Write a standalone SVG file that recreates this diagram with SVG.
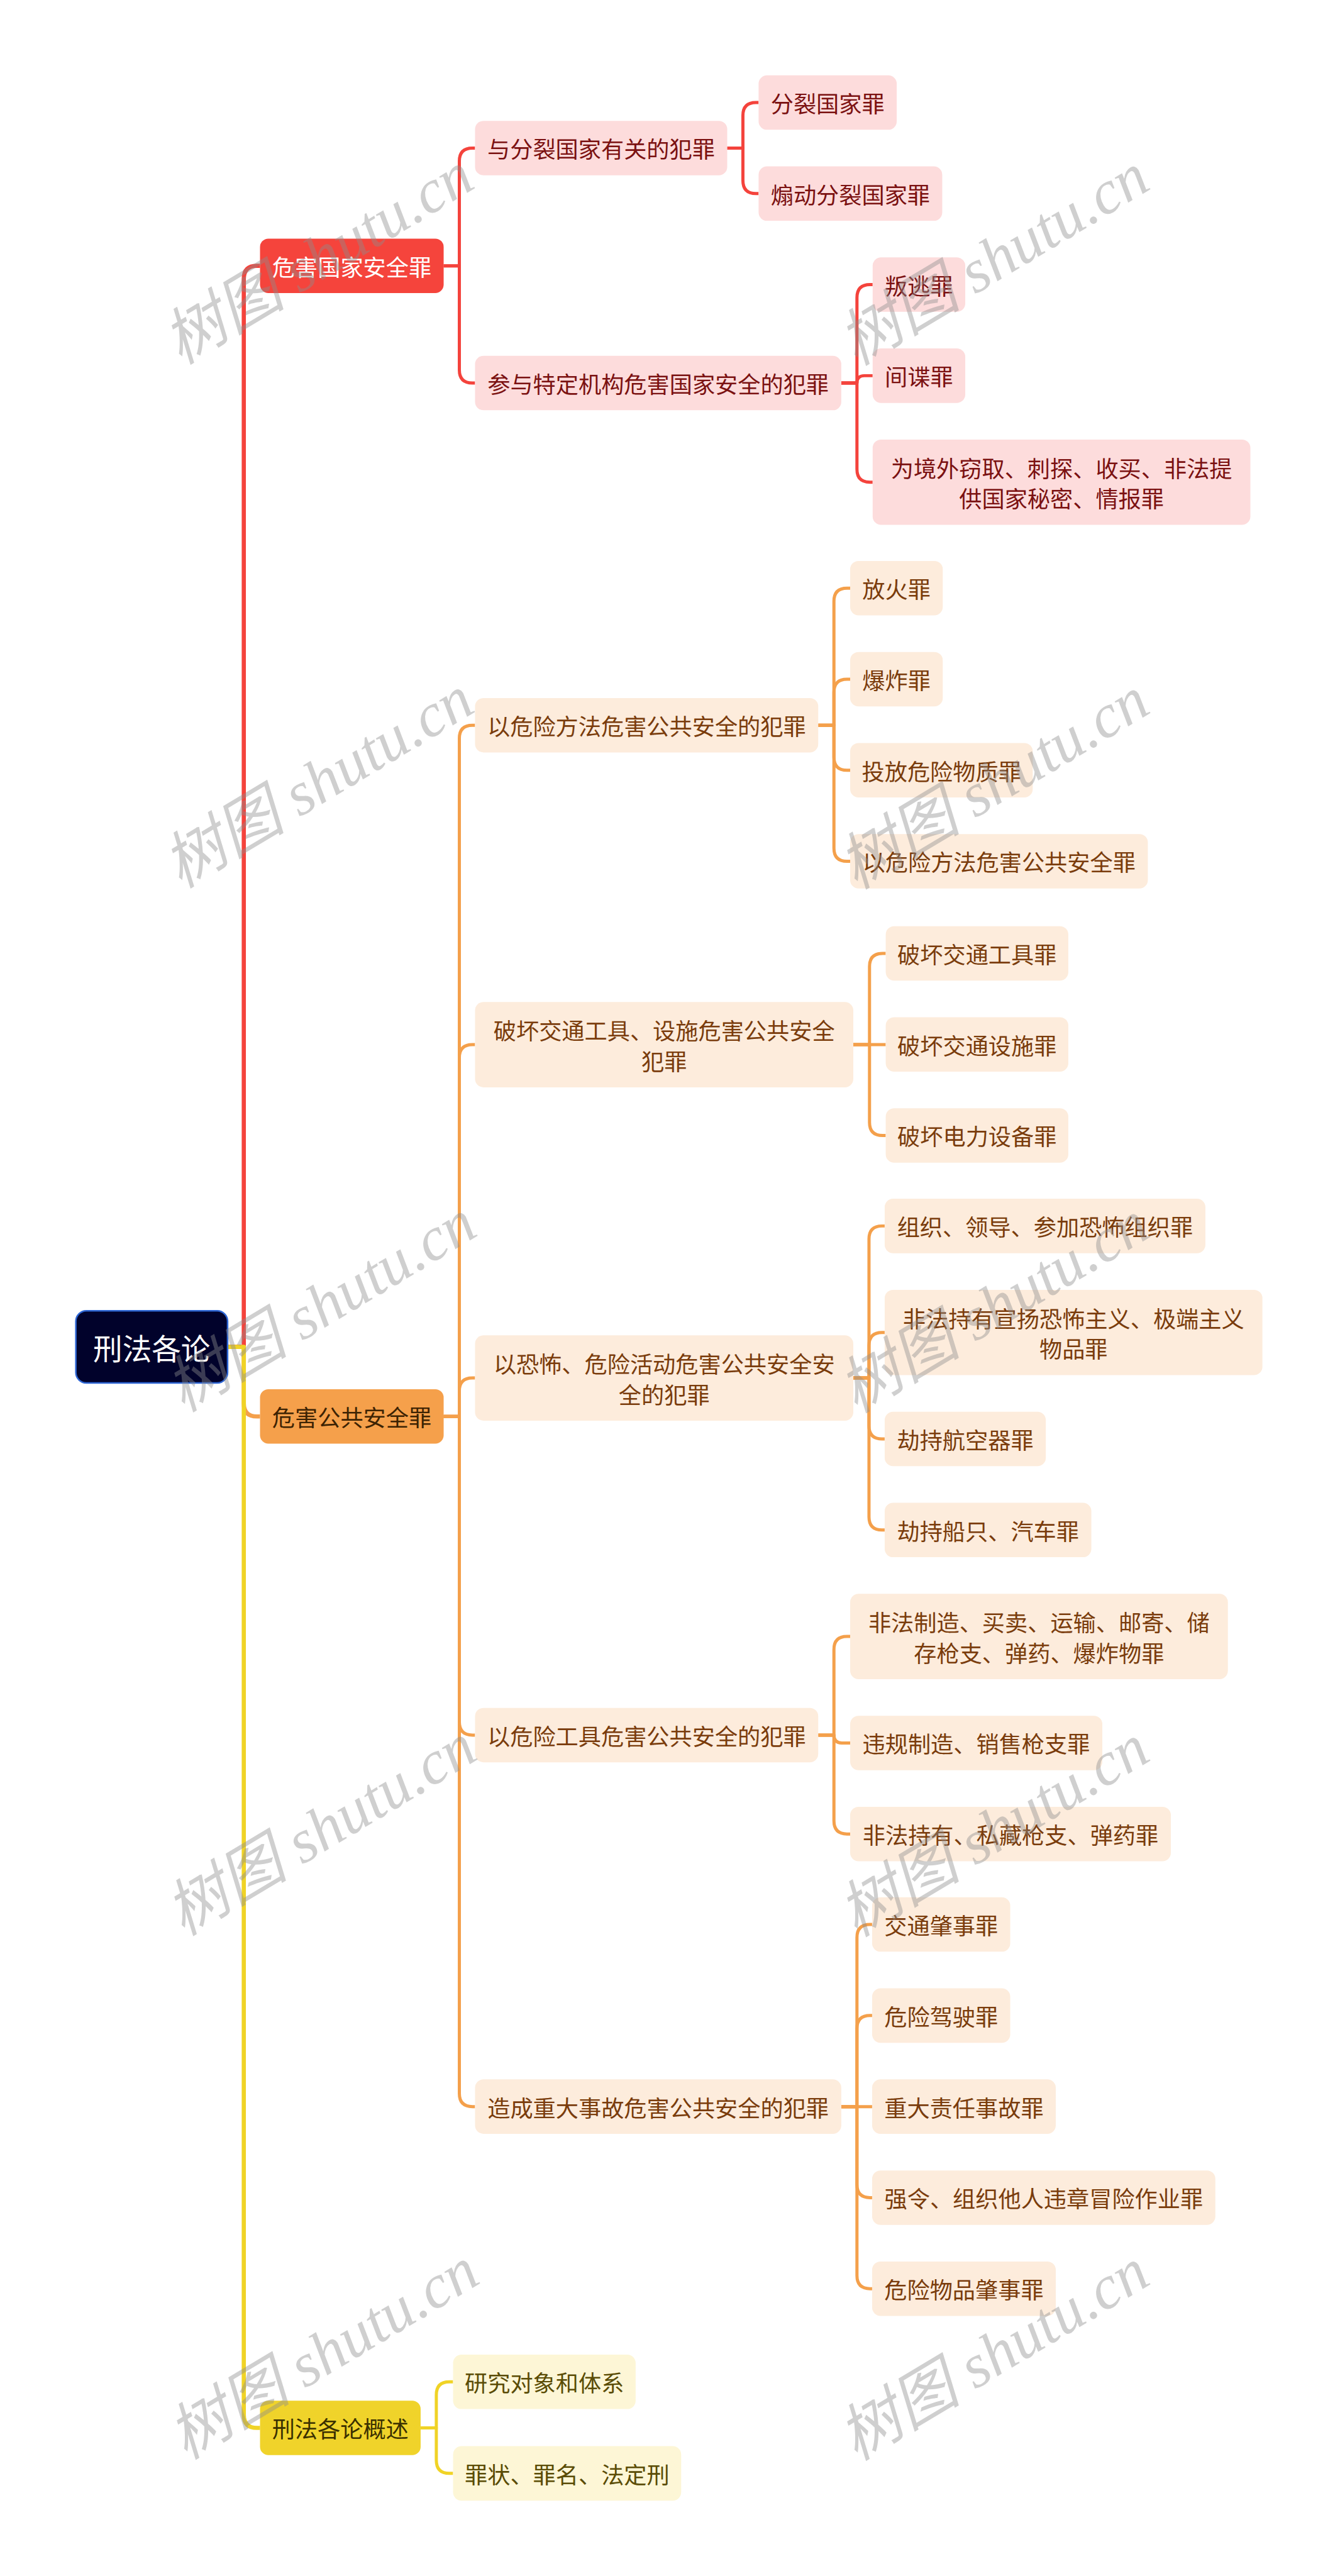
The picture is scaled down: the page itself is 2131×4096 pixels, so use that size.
<svg xmlns="http://www.w3.org/2000/svg" width="2131" height="4096" viewBox="0 0 2131 4096">
<style>
.c{fill:none;stroke-width:6;stroke-linejoin:round}
.w{stroke-width:8}
.cr{stroke:#f4433c}.co{stroke:#f4a04b}.cy{stroke:#f0d326}
text{font-family:"Noto Sans CJK SC","Noto Sans",sans-serif;font-size:43.5px;text-anchor:middle;dominant-baseline:central}
.pr rect{fill:#fddcdc}.pr text{fill:#7b1111}
.po rect{fill:#fdecdc}.po text{fill:#7a3c0c}
.py rect{fill:#fdf6d6}.py text{fill:#5a4c05}
.wm{font-family:"Liberation Serif","Noto Sans CJK SC",serif;font-style:italic;font-size:118px;fill:#8c8c8c;fill-opacity:0.42;text-anchor:start;dominant-baseline:auto}
</style>
<rect width="2131" height="4096" fill="#ffffff"/>
<g transform="scale(0.832)">
<g id="connectors">
<path class="c co w" d="M435 2574H466V2682Q466 2707 491 2707H497"/>
<path class="c co" d="M848 2707H878V1411Q878 1386 903 1386H908"/>
<path class="c co" d="M848 2707H878V2021.5Q878 1996.5 903 1996.5H908"/>
<path class="c co" d="M848 2707H878V2658.5Q878 2633.5 903 2633.5H908"/>
<path class="c co" d="M848 2707H878V3291Q878 3316 903 3316H908"/>
<path class="c co" d="M848 2707H878V4001Q878 4026 903 4026H908"/>
<path class="c co" d="M1564 1386H1594V1149Q1594 1124 1619 1124H1625"/>
<path class="c co" d="M1564 1386H1594V1323Q1594 1298 1619 1298H1625"/>
<path class="c co" d="M1564 1386H1594V1447Q1594 1472 1619 1472H1625"/>
<path class="c co" d="M1564 1386H1594V1621Q1594 1646 1619 1646H1625"/>
<path class="c co" d="M1631 1996.5H1662V1847Q1662 1822 1687 1822H1693"/>
<path class="c co" d="M1631 1996.5H1693"/>
<path class="c co" d="M1631 1996.5H1662V2145Q1662 2170 1687 2170H1693"/>
<path class="c co" d="M1631 2633.5H1661V2368Q1661 2343 1686 2343H1691"/>
<path class="c co" d="M1631 2633.5H1661V2571.5Q1661 2546.5 1686 2546.5H1691"/>
<path class="c co" d="M1631 2633.5H1661V2725Q1661 2750 1686 2750H1691"/>
<path class="c co" d="M1631 2633.5H1661V2899Q1661 2924 1686 2924H1691"/>
<path class="c co" d="M1564 3316H1594V3152.5Q1594 3127.5 1619 3127.5H1625"/>
<path class="c co" d="M1564 3316H1594Q1594 3331 1609 3331H1625"/>
<path class="c co" d="M1564 3316H1594V3480Q1594 3505 1619 3505H1625"/>
<path class="c co" d="M1608 4026H1638V3703Q1638 3678 1663 3678H1667"/>
<path class="c co" d="M1608 4026H1638V3877Q1638 3852 1663 3852H1667"/>
<path class="c co" d="M1608 4026H1667"/>
<path class="c co" d="M1608 4026H1638V4175Q1638 4200 1663 4200H1667"/>
<path class="c co" d="M1608 4026H1638V4349Q1638 4374 1663 4374H1667"/>
<path class="c cr w" d="M435 2574H466V533Q466 508 491 508H497"/>
<path class="c cr" d="M848 508H878V308Q878 283 903 283H908"/>
<path class="c cr" d="M848 508H878V707Q878 732 903 732H908"/>
<path class="c cr" d="M1390 283H1420V221Q1420 196 1445 196H1450"/>
<path class="c cr" d="M1390 283H1420V345Q1420 370 1445 370H1450"/>
<path class="c cr" d="M1608 732H1638V569Q1638 544 1663 544H1668"/>
<path class="c cr" d="M1608 732H1638Q1638 718 1652 718H1668"/>
<path class="c cr" d="M1608 732H1638V896.5Q1638 921.5 1663 921.5H1668"/>
<path class="c cy w" d="M435 2574H466V4615Q466 4640 491 4640H497"/>
<path class="c cy" d="M804 4640H834V4577Q834 4552 859 4552H866"/>
<path class="c cy" d="M804 4640H834V4702Q834 4727 859 4727H866"/>
</g>

<g id="root"><rect x="145" y="2505" width="290" height="138" rx="20" fill="#01022b" stroke="#2e66d4" stroke-width="3"/><text x="290" y="2574" fill="#ffffff" style="font-size:56px">刑法各论</text></g>

<g id="n-gjaq"><rect x="497" y="456" width="351" height="104" rx="16" fill="#f5443c"/><text x="672.5" y="508" fill="#ffffff">危害国家安全罪</text></g>
<g id="n-ggaq"><rect x="497" y="2655" width="351" height="104" rx="16" fill="#f5a04b"/><text x="672.5" y="2707" fill="#3d2303">危害公共安全罪</text></g>
<g id="n-gs"><rect x="497" y="4588" width="307" height="104" rx="16" fill="#f0d32a"/><text x="650.5" y="4640" fill="#3a3000">刑法各论概述</text></g>

<g id="n-r1" class="pr"><rect x="908" y="231" width="482" height="104" rx="16"/><text x="1149" y="283">与分裂国家有关的犯罪</text></g>
<g id="n-r2" class="pr"><rect x="908" y="680" width="700" height="104" rx="16"/><text x="1258" y="732">参与特定机构危害国家安全的犯罪</text></g>
<g id="n-r11" class="pr"><rect x="1450" y="144" width="264" height="104" rx="16"/><text x="1582" y="196">分裂国家罪</text></g>
<g id="n-r12" class="pr"><rect x="1450" y="318" width="351" height="104" rx="16"/><text x="1625.5" y="370">煽动分裂国家罪</text></g>
<g id="n-r21" class="pr"><rect x="1668" y="492" width="177" height="104" rx="16"/><text x="1756.5" y="544">叛逃罪</text></g>
<g id="n-r22" class="pr"><rect x="1668" y="666" width="177" height="104" rx="16"/><text x="1756.5" y="718">间谍罪</text></g>
<g id="n-r23" class="pr"><rect x="1668" y="840" width="722" height="163" rx="16"/><text x="2029" y="893">为境外窃取、刺探、收买、非法提</text><text x="2029" y="951">供国家秘密、情报罪</text></g>

<g id="n-o1" class="po"><rect x="908" y="1334" width="656" height="104" rx="16"/><text x="1236" y="1386">以危险方法危害公共安全的犯罪</text></g>
<g id="n-o2" class="po"><rect x="908" y="1915" width="723" height="163" rx="16"/><text x="1269.5" y="1968">破坏交通工具、设施危害公共安全</text><text x="1269.5" y="2026">犯罪</text></g>
<g id="n-o3" class="po"><rect x="908" y="2552" width="723" height="163" rx="16"/><text x="1269.5" y="2605">以恐怖、危险活动危害公共安全安</text><text x="1269.5" y="2663">全的犯罪</text></g>
<g id="n-o4" class="po"><rect x="908" y="3264" width="656" height="104" rx="16"/><text x="1236" y="3316">以危险工具危害公共安全的犯罪</text></g>
<g id="n-o5" class="po"><rect x="908" y="3974" width="700" height="104" rx="16"/><text x="1258" y="4026">造成重大事故危害公共安全的犯罪</text></g>

<g id="n-o11" class="po"><rect x="1625" y="1072" width="177" height="104" rx="16"/><text x="1713.5" y="1124">放火罪</text></g>
<g id="n-o12" class="po"><rect x="1625" y="1246" width="177" height="104" rx="16"/><text x="1713.5" y="1298">爆炸罪</text></g>
<g id="n-o13" class="po"><rect x="1625" y="1420" width="349" height="104" rx="16"/><text x="1799.5" y="1472">投放危险物质罪</text></g>
<g id="n-o14" class="po"><rect x="1625" y="1594" width="569" height="104" rx="16"/><text x="1909.5" y="1646">以危险方法危害公共安全罪</text></g>

<g id="n-o21" class="po"><rect x="1693" y="1770" width="349" height="104" rx="16"/><text x="1867.5" y="1822">破坏交通工具罪</text></g>
<g id="n-o22" class="po"><rect x="1693" y="1944" width="349" height="104" rx="16"/><text x="1867.5" y="1996">破坏交通设施罪</text></g>
<g id="n-o23" class="po"><rect x="1693" y="2118" width="349" height="104" rx="16"/><text x="1867.5" y="2170">破坏电力设备罪</text></g>

<g id="n-o31" class="po"><rect x="1691" y="2291" width="613" height="104" rx="16"/><text x="1997.5" y="2343">组织、领导、参加恐怖组织罪</text></g>
<g id="n-o32" class="po"><rect x="1691" y="2465" width="722" height="163" rx="16"/><text x="2052" y="2518">非法持有宣扬恐怖主义、极端主义</text><text x="2052" y="2576">物品罪</text></g>
<g id="n-o33" class="po"><rect x="1691" y="2698" width="308" height="104" rx="16"/><text x="1845" y="2750">劫持航空器罪</text></g>
<g id="n-o34" class="po"><rect x="1691" y="2872" width="395" height="104" rx="16"/><text x="1888.5" y="2924">劫持船只、汽车罪</text></g>

<g id="n-o41" class="po"><rect x="1625" y="3046" width="722" height="163" rx="16"/><text x="1986" y="3099">非法制造、买卖、运输、邮寄、储</text><text x="1986" y="3157">存枪支、弹药、爆炸物罪</text></g>
<g id="n-o42" class="po"><rect x="1625" y="3279" width="482" height="104" rx="16"/><text x="1866" y="3331">违规制造、销售枪支罪</text></g>
<g id="n-o43" class="po"><rect x="1625" y="3453" width="613" height="104" rx="16"/><text x="1931.5" y="3505">非法持有、私藏枪支、弹药罪</text></g>

<g id="n-o51" class="po"><rect x="1667" y="3626" width="264" height="104" rx="16"/><text x="1799" y="3678">交通肇事罪</text></g>
<g id="n-o52" class="po"><rect x="1667" y="3800" width="264" height="104" rx="16"/><text x="1799" y="3852">危险驾驶罪</text></g>
<g id="n-o53" class="po"><rect x="1667" y="3974" width="351" height="104" rx="16"/><text x="1842.5" y="4026">重大责任事故罪</text></g>
<g id="n-o54" class="po"><rect x="1667" y="4148" width="656" height="104" rx="16"/><text x="1995" y="4200">强令、组织他人违章冒险作业罪</text></g>
<g id="n-o55" class="po"><rect x="1667" y="4322" width="351" height="104" rx="16"/><text x="1842.5" y="4374">危险物品肇事罪</text></g>

<g id="n-y1" class="py"><rect x="866" y="4500" width="349" height="104" rx="16"/><text x="1040.5" y="4552">研究对象和体系</text></g>
<g id="n-y2" class="py"><rect x="866" y="4675" width="436" height="104" rx="16"/><text x="1084" y="4727">罪状、罪名、法定刑</text></g>

<g id="watermarks">
<text class="wm" transform="translate(345 698) rotate(-31)">树图 shutu.cn</text>
<text class="wm" transform="translate(1636 700) rotate(-31)">树图 shutu.cn</text>
<text class="wm" transform="translate(345 1699) rotate(-31)">树图 shutu.cn</text>
<text class="wm" transform="translate(1636 1701) rotate(-31)">树图 shutu.cn</text>
<text class="wm" transform="translate(350 2700) rotate(-31)">树图 shutu.cn</text>
<text class="wm" transform="translate(1636 2702) rotate(-31)">树图 shutu.cn</text>
<text class="wm" transform="translate(350 3701) rotate(-31)">树图 shutu.cn</text>
<text class="wm" transform="translate(1636 3703) rotate(-31)">树图 shutu.cn</text>
<text class="wm" transform="translate(355 4702) rotate(-31)">树图 shutu.cn</text>
<text class="wm" transform="translate(1636 4704) rotate(-31)">树图 shutu.cn</text>
</g>
</g>
</svg>
